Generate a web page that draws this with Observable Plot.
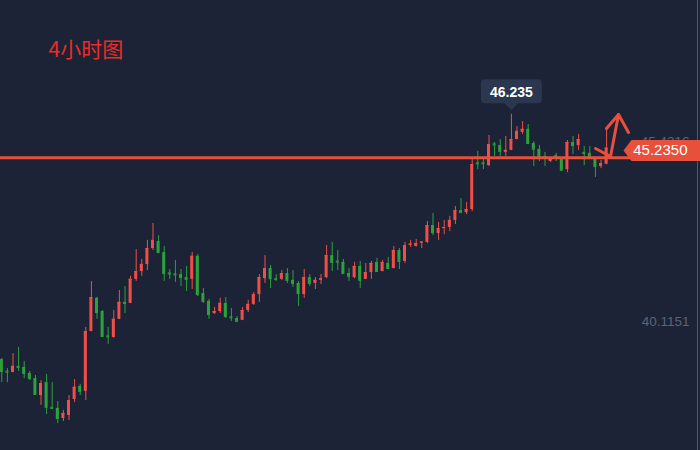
<!DOCTYPE html>
<html><head><meta charset="utf-8">
<script src="https://cdn.jsdelivr.net/npm/d3@7"></script>
<script src="https://cdn.jsdelivr.net/npm/@observablehq/plot@0.6"></script>
<style>html,body{margin:0;padding:0;background:#1c2336;} #chart svg{display:block;}</style>
</head><body><div id="chart"></div>
<script>
// ---- data (4-hour candles) ----
const opens  = [38.99,38.65,38.61,38.79,38.76,38.58,38.43,37.93,38.31,37.58,37.55,37.25,37.34,37.81,38.20,38.05,39.82,40.80,40.41,39.69,39.64,40.18,40.68,40.65,41.36,41.59,41.80,42.27,42.48,42.15,41.55,41.52,41.50,41.41,41.36,42.04,40.94,40.71,40.35,40.41,40.65,40.25,40.20,40.15,40.44,40.62,40.91,41.38,41.68,41.38,41.36,41.53,41.33,41.24,40.91,41.41,41.24,41.33,41.41,42.06,41.90,41.86,41.53,41.41,41.74,41.36,41.56,41.86,41.59,41.83,41.68,42.21,41.89,42.37,42.33,42.43,42.45,42.95,42.71,42.86,42.89,43.10,43.39,43.33,43.42,44.80,44.80,44.72,45.36,45.31,45.11,45.17,45.49,45.70,45.79,45.37,45.20,44.99,44.84,45.02,44.93,44.60,45.40,45.31,45.11,45.08,44.93,44.69,44.76];
const closes = [38.64,38.62,38.79,38.76,38.58,38.43,37.96,38.28,37.58,37.55,37.25,37.40,37.78,38.17,38.05,39.82,40.82,40.38,39.67,39.66,40.18,40.68,40.65,41.36,41.59,41.80,42.27,42.51,42.15,41.53,41.52,41.49,41.41,41.36,42.04,40.91,40.71,40.32,40.41,40.65,40.26,40.22,40.12,40.44,40.62,40.91,41.41,41.68,41.38,41.36,41.53,41.33,41.24,40.94,41.41,41.24,41.33,41.38,42.06,41.86,41.87,41.53,41.45,41.74,41.33,41.56,41.83,41.59,41.86,41.68,42.21,41.89,42.36,42.40,42.42,42.46,42.95,42.74,42.86,42.89,43.10,43.39,43.33,43.42,44.75,44.77,44.77,45.34,45.33,45.14,45.17,45.49,45.73,45.79,45.37,45.20,44.99,44.96,44.90,44.99,44.58,45.40,45.31,45.49,45.08,44.96,44.69,44.78,45.235];
const highs  = [39.02,38.73,39.17,39.35,38.93,38.64,38.52,38.37,38.55,38.31,37.75,37.49,37.93,38.40,38.26,39.94,41.30,40.83,40.44,39.94,40.44,41.03,41.15,41.45,42.24,41.95,42.51,43.01,42.65,42.33,41.65,41.92,41.65,41.74,42.15,42.09,41.09,40.77,40.53,40.80,40.82,40.50,40.26,40.53,40.74,40.97,41.50,42.06,41.77,41.50,41.62,41.68,41.62,41.30,41.65,41.50,41.41,41.50,42.36,42.45,42.21,41.95,41.68,41.86,41.89,41.83,41.89,41.98,41.92,42.01,42.33,42.27,42.45,42.51,42.54,42.48,43.07,43.31,43.04,43.10,43.22,43.51,43.75,43.63,44.90,45.14,44.90,45.61,45.40,45.49,45.58,46.235,45.87,46.02,45.93,45.43,45.31,45.11,44.93,45.08,44.96,45.46,45.58,45.64,45.28,45.28,44.96,44.87,45.84];
const lows   = [38.31,38.31,38.60,38.64,38.43,38.37,37.95,37.64,37.37,37.52,37.10,37.16,37.19,37.72,37.93,37.78,39.81,40.18,39.66,39.44,39.63,40.17,40.35,40.64,41.30,41.45,41.62,42.21,42.12,41.30,41.36,41.27,41.15,41.00,41.06,40.85,40.65,40.18,40.32,40.35,40.20,40.12,40.11,40.14,40.38,40.59,40.68,41.24,41.09,41.30,41.33,41.24,41.12,40.56,40.80,41.15,41.06,41.21,41.38,41.59,41.62,41.52,41.30,41.38,41.09,41.35,41.36,41.58,41.58,41.67,41.67,41.65,41.83,42.30,42.32,42.27,42.42,42.65,42.51,42.68,42.77,42.98,43.32,43.27,43.36,44.60,44.60,44.69,44.99,44.99,44.99,45.16,45.48,45.64,45.36,44.69,44.84,44.69,44.81,44.84,44.57,44.51,45.05,45.17,44.72,44.90,44.37,44.63,44.74];
const axisTicks = [40.1151, 45.4316];
const supportLevel = [44.95];
const titleText = ["4小时图"];
// hand-drawn arrow annotation (candle index, price)
const arrowStroke = ["a","a","a","a","b","b"];
const arrowIndex  = [106.02,108.70,110.13,111.91,107.98,110.13];
const arrowPrice  = [45.225,44.988,46.229,45.697,45.815,46.229];

// ---- styles ----
const BG = "#1c2336", UP = "#ef4f47", DOWN = "#2ba33b", MARK = "#e9503c";
const xDomain = [-0.232, 124.23];
const half = 0.268;

const candles = opens.map((o, i) => ({i, open: o, close: closes[i], high: highs[i], low: lows[i]}));
const up = candles.filter(d => d.close >= d.open);
const down = candles.filter(d => d.close < d.open);
const peak = candles.reduce((a, b) => (b.high > a.high ? b : a));
const last = candles[candles.length - 1];
const arrow = arrowIndex.map((x, k) => ({x, y: arrowPrice[k], s: arrowStroke[k]}));

function candleMarks(data, color) {
  return [
    Plot.ruleX(data, {x: "i", y1: "low", y2: "high", stroke: color, strokeWidth: 1}),
    Plot.rect(data, {x1: d => d.i - half, x2: d => d.i + half, y1: "open", y2: "close", fill: color}),
    Plot.ruleY(data, {x1: d => d.i - half, x2: d => d.i + half, y: "close", stroke: color, strokeWidth: 1})
  ];
}

// callout box (rounded) with a pointer below
const callout = {draw(ctx) {
  const l = -30.5, r = 30.5, t = -35, b = -11, rad = 4;
  ctx.moveTo(0, -4);
  ctx.lineTo(-7, b);
  ctx.lineTo(l + rad, b);
  ctx.arcTo(l, b, l, b - rad, rad);
  ctx.lineTo(l, t + rad);
  ctx.arcTo(l, t, l + rad, t, rad);
  ctx.lineTo(r - rad, t);
  ctx.arcTo(r, t, r, t + rad, rad);
  ctx.lineTo(r, b - rad);
  ctx.arcTo(r, b, r - rad, b, rad);
  ctx.lineTo(7, b);
  ctx.closePath();
}};
// price tag pointing left
const priceTag = {draw(ctx) {
  ctx.moveTo(-74, 0);
  ctx.lineTo(-66, -10.5);
  ctx.lineTo(4, -10.5);
  ctx.lineTo(4, 10.5);
  ctx.lineTo(-66, 10.5);
  ctx.closePath();
}};

const chart = Plot.plot({
  width: 700,
  height: 450,
  marginTop: 0, marginBottom: 0, marginLeft: 0, marginRight: 3,
  style: {background: BG, color: "#ffffff"},
  x: {domain: xDomain, axis: null},
  y: {domain: [36.305, 49.595], axis: null},
  marks: [
    Plot.ruleX([xDomain[1]], {stroke: "#b24a2a", strokeWidth: 1, strokeOpacity: 0.8}),
    Plot.axisY(axisTicks, {anchor: "right", tickSize: 0, tickPadding: -8, textAnchor: "end", label: null,
      tickFormat: d => d.toFixed(4), color: "#5a6478", fontSize: 13.5, fontFamily: "Liberation Sans"}),
    ...candleMarks(down, DOWN),
    ...candleMarks(up, UP),
    Plot.ruleY(supportLevel, {stroke: MARK, strokeWidth: 3}),
    Plot.line(arrow, {x: "x", y: "y", z: "s", stroke: MARK, strokeWidth: 3, strokeLinecap: "round", strokeLinejoin: "round"}),
    Plot.dot([peak], {x: "i", y: "high", symbol: callout, r: 5, fill: "#2b364f", stroke: "none"}),
    Plot.text([peak], {x: "i", y: "high", text: d => d.high.toFixed(3), dy: -22, fill: "#ffffff",
      fontSize: 14, fontWeight: 600, fontFamily: "Liberation Sans"}),
    Plot.dot([last], {y: "close", frameAnchor: "right", dy: 2.4, symbol: priceTag, r: 5, fill: MARK, stroke: "none"}),
    Plot.text([last], {y: "close", frameAnchor: "right", textAnchor: "end", dx: -10, dy: 2.4,
      text: d => d.close.toFixed(4), fill: "#ffffff", fontSize: 15, fontFamily: "Liberation Sans"}),
    Plot.text(titleText, {text: d => d, frameAnchor: "top-left", textAnchor: "start", lineAnchor: "middle",
      dx: 48, dy: 50, fill: "#ee2b25", fontSize: 21, fontFamily: "Noto Sans CJK SC"})
  ]
});
document.getElementById("chart").appendChild(chart);
</script>
</body></html>
